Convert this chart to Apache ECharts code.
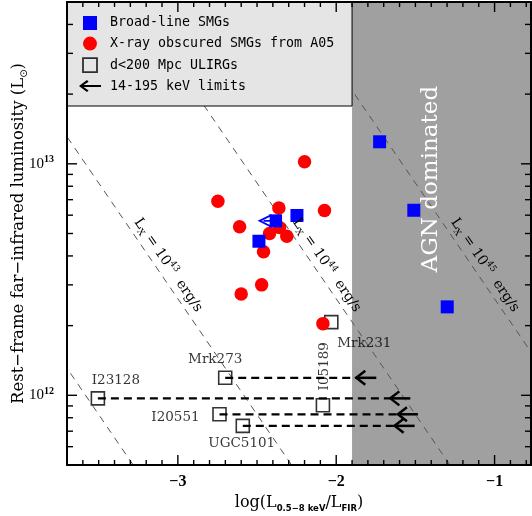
<!DOCTYPE html>
<html>
<head>
<meta charset="utf-8">
<script src="https://cdn.jsdelivr.net/npm/echarts@6.0.0/dist/echarts.min.js"></script>
<style>
html,body{margin:0;padding:0;background:#ffffff;}
#chart{width:532px;height:516px;}
</style>
</head>
<body>
<div id="chart"></div>
<script>
// ---- axis ranges & ticks ----
const xRange = [-3.7, -0.77];
const yRange = [5e11, 5e13];
const xMajorTicks = [-3, -2, -1];
const xTickLabels = ['\u22123', '\u22122', '\u22121'];
const yMajorTicks = [1e12, 1e13];
const yTickLabels = ['{b|10}{s|12}', '{b|10}{s|13}'];
const yMinorTicks = [6e11, 7e11, 8e11, 9e11, 2e12, 3e12, 4e12, 5e12, 6e12, 7e12, 8e12, 9e12, 2e13, 3e13, 4e13];
const agnBoundary = -1.9;
const xTitle = '{n|log(L}{sub|0.5\u22128 keV}{n|/L}{sub|FIR}{n|)}';
const yTitle = '{n|Rest\u2212frame far\u2212infrared luminosity (L}{sub|\u2299}{n|)}';

// ---- data ----
const broadLineX = [-2.383, -2.248, -2.488, -1.726, -1.510, -1.299];
const broadLineL = [5.67e12, 5.98e12, 4.63e12, 1.245e13, 6.30e12, 2.41e12];
const broadLineIsLimit = [true, false, false, false, false, false];

const obscuredX = [-2.200, -2.747, -2.362, -2.074, -2.610, -2.421, -2.358, -2.312, -2.459, -2.471, -2.600, -2.084];
const obscuredL = [1.02e13, 6.89e12, 6.44e12, 6.28e12, 5.35e12, 5.00e12, 5.31e12, 4.87e12, 4.17e12, 3.00e12, 2.74e12, 2.04e12];

const ulirgNames = ['Mrk231', 'Mrk273', 'I23128', 'I20551', 'UGC5101', 'I05189'];
const ulirgX = [-2.031, -2.701, -3.505, -2.737, -2.590, -2.084];
const ulirgL = [2.07e12, 1.19e12, 0.97e12, 8.28e11, 7.38e11, 9.06e11];
const ulirgHardLimitX = [null, -1.747, -1.532, -1.484, -1.505, null];

const lxLevels = [42, 43, 44, 45];
const lxLabelLevels = [43, 44, 45];
const logLsunErg = 33.583;
const lxLabelL = 3.43e12;

// ---- styles / layout (not data) ----
const SERIF = 'DejaVu Serif';
const TICKFONT = 'Liberation Serif';
const MONO = 'DejaVu Sans Mono';
const ulirgLabelLayout = {
  Mrk231: { offset: [33, 21], rotate: 0 },
  Mrk273: { offset: [-10, -18], rotate: 0 },
  I23128: { offset: [18, -18], rotate: 0 },
  I20551: { offset: [-44, 3], rotate: 0 },
  UGC5101: { offset: [-1, 18], rotate: 0 },
  I05189: { offset: [39, 2], rotate: 90 }
};

const xMinorTicks = [];
for (let k = -36; k <= -8; k++) { if (k % 10 !== 0) xMinorTicks.push(k / 10); }

function xAxisDef(position, showLabel) {
  return {
    type: 'value', position: position, min: xRange[0], max: xRange[1], z: 7,
    axisLine: { show: true, onZero: false, lineStyle: { color: '#000', width: 2 } },
    axisTick: { show: false },
    axisLabel: showLabel ? {
      show: true, customValues: xMajorTicks, margin: 9, color: '#000',
      fontFamily: TICKFONT, fontSize: 16, fontWeight: 'bold',
      formatter: function (v) { const i = xMajorTicks.indexOf(Math.round(v)); return i >= 0 ? xTickLabels[i] : ''; }
    } : { show: false },
    splitLine: { show: false }
  };
}
function yAxisDef(position, showLabel) {
  return {
    type: 'log', logBase: 10, position: position, min: yRange[0], max: yRange[1], z: 7,
    axisLine: { show: true, onZero: false, lineStyle: { color: '#000', width: 2 } },
    axisTick: { show: false },
    axisLabel: showLabel ? {
      show: true, customValues: yMajorTicks, margin: 13, color: '#000',
      formatter: function (v) { const e = Math.round(Math.log10(v)); return e === 12 ? yTickLabels[0] : yTickLabels[1]; },
      rich: {
        b: { fontFamily: TICKFONT, fontSize: 15, color: '#000', lineHeight: 18, verticalAlign: 'middle' },
        s: { fontFamily: TICKFONT, fontSize: 10, fontWeight: 'bold', color: '#000', lineHeight: 10, verticalAlign: 'top' }
      }
    } : { show: false },
    splitLine: { show: false }
  };
}

const xAxes = [xAxisDef('bottom', true), xAxisDef('top', false)];
xAxes[0].name = xTitle;
xAxes[0].nameLocation = 'middle';
xAxes[0].nameGap = 27;
xAxes[0].nameTextStyle = {
  rich: {
    n: { fontFamily: SERIF, fontSize: 16, color: '#000', lineHeight: 20, verticalAlign: 'middle' },
    sub: { fontFamily: 'DejaVu Sans', fontSize: 8.5, fontWeight: 'bold', color: '#000', lineHeight: 9, verticalAlign: 'bottom' }
  }
};
const yAxes = [yAxisDef('left', true), yAxisDef('right', false)];

function lxLineData(level) {
  return [yRange[0], yRange[1]].map(function (L) { return [level - logLsunErg - Math.log10(L), L]; });
}

const series = [];
// AGN dominated shading
series.push({
  type: 'line', name: 'agn', z: 1, silent: true, showSymbol: false, symbol: 'none',
  data: [[agnBoundary, yRange[0]]], lineStyle: { width: 0 },
  markArea: {
    silent: true, itemStyle: { color: '#a0a0a0', opacity: 1 }, label: { show: false },
    data: [[{ xAxis: agnBoundary }, { xAxis: xRange[1] }]]
  }
});
// constant Lx lines
lxLevels.forEach(function (lv) {
  series.push({
    type: 'line', name: 'Lx' + lv, z: 2, silent: true, symbol: 'none', clip: true,
    data: lxLineData(lv),
    lineStyle: { color: '#555', width: 1, type: [7, 6] }
  });
});
// ULIRGs
series.push({
  type: 'scatter', name: 'd<200 Mpc ULIRGs', z: 3, symbol: 'rect', symbolSize: 13,
  itemStyle: { color: 'rgba(0,0,0,0)', borderColor: '#000', borderWidth: 1.6 },
  label: { show: true, position: 'inside', formatter: '{b}', color: '#000', fontFamily: SERIF, fontSize: 13.5 },
  data: ulirgNames.map(function (n, i) {
    const lay = ulirgLabelLayout[n];
    return { name: n, value: [ulirgX[i], ulirgL[i]], label: { offset: lay.offset, rotate: lay.rotate } };
  })
});
// X-ray obscured SMGs
series.push({
  type: 'scatter', name: 'X-ray obscured SMGs from A05', z: 3, symbol: 'circle', symbolSize: 13.5,
  itemStyle: { color: '#ff0000', opacity: 1 },
  data: obscuredX.map(function (x, i) { return [x, obscuredL[i]]; })
});
// Broad-line SMGs
series.push({
  type: 'scatter', name: 'Broad-line SMGs', z: 3, symbol: 'rect', symbolSize: 13,
  itemStyle: { color: '#0000ff', opacity: 1 },
  data: broadLineX.map(function (x, i) { return [x, broadLineL[i]]; })
});
// 14-195 keV limit arrows
series.push({
  type: 'custom', name: '14-195 keV limits', z: 3, silent: true,
  encode: { x: [0, 2], y: 1 },
  data: ulirgNames.map(function (n, i) { return [ulirgX[i], ulirgL[i], ulirgHardLimitX[i]]; })
    .filter(function (d) { return d[2] !== null; }),
  renderItem: function (params, api) {
    const p0 = api.coord([api.value(0), api.value(1)]);
    const p1 = api.coord([api.value(2), api.value(1)]);
    const tipX = p1[0] - 20;
    const y = p1[1];
    return {
      type: 'group', children: [
        { type: 'line', shape: { x1: p0[0], y1: y, x2: tipX, y2: y }, style: { stroke: '#000', lineWidth: 2.3, lineDash: [8, 5] } },
        { type: 'line', shape: { x1: tipX, y1: y, x2: p1[0], y2: y }, style: { stroke: '#000', lineWidth: 2.5 } },
        { type: 'polyline', shape: { points: [[tipX + 9, y - 7], [tipX, y], [tipX + 9, y + 7]] }, style: { stroke: '#000', lineWidth: 2.5, fill: null } }
      ]
    };
  }
});
// broad-line upper-limit arrow
series.push({
  type: 'custom', name: 'bl-limit', z: 4, silent: true,
  encode: { x: 0, y: 1 },
  data: broadLineX.map(function (x, i) { return [x, broadLineL[i]]; }).filter(function (d, i) { return broadLineIsLimit[i]; }),
  renderItem: function (params, api) {
    const p = api.coord([api.value(0), api.value(1)]);
    const tip = p[0] - 16;
    return {
      type: 'group', children: [
        { type: 'polygon', shape: { points: [[tip, p[1]], [tip + 11, p[1] - 5.5], [tip + 11, p[1] + 5.5]] }, style: { stroke: '#0000ff', lineWidth: 1.8, fill: '#ffffff' } },
        { type: 'line', shape: { x1: tip + 4, y1: p[1], x2: p[0], y2: p[1] }, style: { stroke: '#0000ff', lineWidth: 1.8 } }
      ]
    };
  }
});

const option = {
  animation: false,
  backgroundColor: '#ffffff',
  textStyle: { fontFamily: SERIF },
  grid: { left: 67, right: 1, top: 2, bottom: 51, containLabel: false, outerBoundsMode: 'none' },
  legend: {
    show: true, orient: 'vertical', left: 79, top: 16, padding: 0, z: 6,
    itemWidth: 22, itemHeight: 14, itemGap: 6.6, selectedMode: false,
    textStyle: { fontFamily: MONO, fontSize: 13.3, color: '#000', padding: [0, 0, 0, 4] },
    data: [
      { name: 'Broad-line SMGs', icon: 'path://M0,0H10V10H0Z', itemStyle: { color: '#0000ff' } },
      { name: 'X-ray obscured SMGs from A05', icon: 'circle', itemStyle: { color: '#ff0000' } },
      { name: 'd<200 Mpc ULIRGs', icon: 'path://M0,0H10V10H0Z', itemStyle: { color: 'rgba(0,0,0,0)', borderColor: '#000', borderWidth: 1.8 } },
      { name: '14-195 keV limits', icon: 'path://M0,6L8,0L9.6,1.6L4.6,5H22V7H4.6L9.6,10.4L8,12Z', itemStyle: { color: '#000', borderWidth: 0 } }
    ]
  },
  xAxis: xAxes,
  yAxis: yAxes,
  series: series
};

const chart = echarts.init(document.getElementById('chart'), null, { renderer: 'canvas' });
chart.setOption(option);

function toPx(x, L) { return chart.convertToPixel({ xAxisIndex: 0, yAxisIndex: 0 }, [x, L]); }

const graphics = [];
const tl = toPx(xRange[0], yRange[1]);
const bl = toPx(xRange[0], yRange[0]);
const br = toPx(xRange[1], yRange[0]);
// legend box
const agnPx = toPx(agnBoundary, yRange[1]);
graphics.push({
  type: 'rect', z: 5, silent: true,
  shape: { x: tl[0], y: tl[1], width: agnPx[0] - tl[0], height: 106 - tl[1] },
  style: { fill: '#e5e5e5', stroke: '#000', lineWidth: 1 }
});
// inward tick marks on all four sides, positioned by the axis scales (thin filled rects)
function tickRect(x, y, w, h) {
  return { type: 'rect', z: 20, silent: true, shape: { x: x, y: y, width: w, height: h }, style: { fill: '#000' } };
}
const TW = 1.4;
[[xMajorTicks, 10], [xMinorTicks, 5]].forEach(function (set) {
  set[0].forEach(function (v) {
    const px = toPx(v, yRange[0])[0];
    graphics.push(tickRect(px - TW / 2, bl[1] - set[1], TW, set[1]));
    graphics.push(tickRect(px - TW / 2, tl[1], TW, set[1]));
  });
});
[[yMajorTicks, 10], [yMinorTicks, 6]].forEach(function (set) {
  set[0].forEach(function (v) {
    const py = toPx(xRange[0], v)[1];
    graphics.push(tickRect(bl[0], py - TW / 2, set[1], TW));
    graphics.push(tickRect(br[0] - set[1], py - TW / 2, set[1], TW));
  });
});
// y-axis title
graphics.push({
  type: 'text', z: 4, silent: true, x: 19, y: (tl[1] + bl[1]) / 2, rotation: Math.PI / 2,
  style: {
    text: yTitle, align: 'center', verticalAlign: 'middle', fill: '#000',
    rich: {
      n: { fontFamily: SERIF, fontSize: 16.5, fill: '#000', lineHeight: 20, verticalAlign: 'middle' },
      sub: { fontFamily: 'DejaVu Sans', fontSize: 10, fill: '#000', lineHeight: 10, verticalAlign: 'bottom' }
    }
  }
});
// Lx labels along lines
lxLabelLevels.forEach(function (lv) {
  const x0 = lv - logLsunErg - Math.log10(lxLabelL);
  const p = toPx(x0, lxLabelL);
  const q = toPx(x0 + 0.5, lxLabelL / Math.pow(10, 0.5));
  const a = Math.atan2(q[1] - p[1], q[0] - p[0]);
  const d = 11;
  graphics.push({
    type: 'text', z: 4, silent: true,
    x: p[0] + Math.sin(a) * d, y: p[1] - Math.cos(a) * d, rotation: -a,
    style: {
      text: '{n|L}{sub|X}{n| = 10}{sup|' + lv + '}{n|  erg/s}',
      align: 'center', verticalAlign: 'middle', fill: '#000',
      rich: {
        n: { fontFamily: SERIF, fontSize: 14, fill: '#000', lineHeight: 18, verticalAlign: 'middle' },
        sub: { fontFamily: SERIF, fontSize: 9, fill: '#000', lineHeight: 9, verticalAlign: 'bottom' },
        sup: { fontFamily: SERIF, fontSize: 9, fill: '#000', lineHeight: 9, verticalAlign: 'top' }
      }
    }
  });
});
// AGN dominated annotation
const agnC = toPx(-1.40, 1.25e13);
graphics.push({
  type: 'text', z: 4, silent: true, x: agnC[0], y: 179, rotation: Math.PI / 2,
  style: { text: 'AGN dominated', align: 'center', verticalAlign: 'middle', fill: '#ffffff', fontFamily: SERIF, fontSize: 23 }
});
chart.setOption({ graphic: graphics });
</script>
</body>
</html>
